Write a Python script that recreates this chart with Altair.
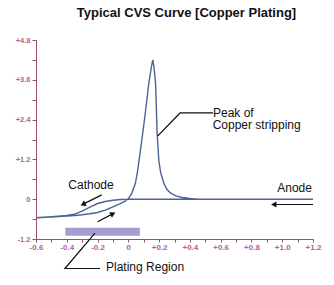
import altair as alt
import pandas as pd

# ---- data ----
cvs_v = [1.2, 1.0, 0.8, 0.6, 0.4, 0.2, 0.0, -0.05, -0.1, -0.15, -0.2, -0.25, -0.3, -0.35, -0.4, -0.5, -0.6,
         -0.5, -0.4, -0.35, -0.3, -0.25, -0.2, -0.15, -0.1, -0.06, -0.02, 0.0, 0.02, 0.046, 0.06, 0.079,
         0.107, 0.133, 0.15, 0.159, 0.166, 0.177, 0.187, 0.198, 0.21, 0.231, 0.25, 0.275, 0.31, 0.35,
         0.40, 0.45, 0.6, 0.8, 1.0, 1.2]
cvs_i = [0, 0, 0, 0, 0, 0, 0, -0.01, -0.03, -0.07, -0.13, -0.24, -0.36, -0.45, -0.49, -0.53, -0.56,
         -0.54, -0.51, -0.49, -0.47, -0.44, -0.4, -0.33, -0.23, -0.15, -0.06, 0.02, 0.15, 0.48, 0.85, 1.48,
         2.47, 3.49, 4.0, 4.2, 4.0, 3.5, 2.0, 1.17, 0.8, 0.48, 0.3, 0.18, 0.1, 0.05, 0.02, 0.0, 0, 0, 0, 0]

plating_v = [-0.41, 0.075]
plating_i = [-1.1, -0.86]

x_ticks = [-0.6, -0.5, -0.4, -0.3, -0.2, -0.1, 0.0, 0.1, 0.2, 0.3, 0.4, 0.5, 0.6, 0.7, 0.8, 0.9, 1.0, 1.1, 1.2]
y_ticks = [-1.2, -0.6, 0.0, 0.6, 1.2, 1.8, 2.4, 3.0, 3.6, 4.2, 4.8]

left_texts = ["Peak of", "Copper stripping", "Cathode", "Plating Region"]
left_v = [0.55, 0.548, -0.39, -0.145]
left_i = [2.47, 2.11, 0.32, -2.17]
right_texts = ["Anode"]
right_v = [1.193]
right_i = [0.22]

# pointer lines (id, x, y)
pointer_id = ["peak", "peak", "peak", "plate", "plate", "plate",
              "cath", "cath", "anod", "anod", "anode", "anode"]
pointer_v = [0.55, 0.336, 0.19, -0.217, -0.412, -0.184,
             -0.173, -0.29, -0.2, -0.105, 1.2, 0.95]
pointer_i = [2.6, 2.6, 1.9, -1.02, -2.09, -2.09,
             0.13, -0.14, -0.68, -0.45, -0.16, -0.16]

head_v = [-0.295, -0.1, 0.945]
head_i = [-0.155, -0.44, -0.16]
head_angle = [153, 334, 180]

# ---- tables ----
curve = pd.DataFrame({"x": cvs_v, "y": cvs_i, "idx": list(range(len(cvs_v)))})
bar = pd.DataFrame({"x": [plating_v[0]], "x2": [plating_v[1]], "y": [plating_i[0]], "y2": [plating_i[1]]})
labels_l = pd.DataFrame({"x": left_v, "y": left_i, "t": left_texts})
labels_r = pd.DataFrame({"x": right_v, "y": right_i, "t": right_texts})
pointers = pd.DataFrame({"x": pointer_v, "y": pointer_i, "g": pointer_id, "o": list(range(len(pointer_v)))})
heads = pd.DataFrame({"x": head_v, "y": head_i, "ang": head_angle})

AX = "#9e4a72"
LB = "#b0648e"

def lbl(step_mod):
    return ("round(datum.value*10) % " + str(step_mod) + " != 0 ? '' : "
            "(datum.value > 0 ? '+' + format(datum.value, '.1f') : "
            "(datum.value < 0 ? '-' + format(abs(datum.value), '.1f') : '0'))")

xs = alt.Scale(domain=[-0.6, 1.2], nice=False, zero=False)
ys = alt.Scale(domain=[-1.2, 4.8], nice=False, zero=False)

x_axis = alt.Axis(values=x_ticks, labelExpr=lbl(2), title=None, grid=False, domainColor=AX,
                  tickColor=AX, labelColor=LB, labelFontSize=8, labelFontWeight="bold",
                  labelFont="Liberation Sans", tickSize=3, labelPadding=1, labelFlush=False,
                  labelOverlap=False)
y_axis = alt.Axis(values=y_ticks, labelExpr=lbl(12), title=None, grid=False, domainColor=AX,
                  tickColor=AX, labelColor=LB, labelFontSize=7.5, labelFontWeight="bold",
                  labelFont="Liberation Sans", tickSize=4, labelPadding=2, labelFlush=False,
                  labelOverlap=False)

base_curve = alt.Chart(curve).mark_line(color="#4d6296", strokeWidth=1.4).encode(
    x=alt.X("x:Q", scale=xs, axis=x_axis),
    y=alt.Y("y:Q", scale=ys, axis=y_axis),
    order=alt.Order("idx:Q"),
)

bar_layer = alt.Chart(bar).mark_rect(color="#a29ecf").encode(
    x=alt.X("x:Q", scale=xs, axis=x_axis), x2="x2:Q",
    y=alt.Y("y:Q", scale=ys, axis=y_axis), y2="y2:Q",
)

pointer_layer = alt.Chart(pointers).mark_line(color="#111111", strokeWidth=1.2).encode(
    x=alt.X("x:Q", scale=xs, axis=x_axis),
    y=alt.Y("y:Q", scale=ys, axis=y_axis),
    detail="g:N",
    order=alt.Order("o:Q"),
)

head_layer = alt.Chart(heads).mark_point(shape="triangle-right", filled=True, color="#111111",
                                         size=38, opacity=1).encode(
    x=alt.X("x:Q", scale=xs, axis=x_axis),
    y=alt.Y("y:Q", scale=ys, axis=y_axis),
    angle=alt.Angle("ang:Q", scale=None),
)

text_l = alt.Chart(labels_l).mark_text(font="Liberation Sans", fontSize=12, color="#111111",
                                       baseline="alphabetic", align="left").encode(
    x=alt.X("x:Q", scale=xs, axis=x_axis),
    y=alt.Y("y:Q", scale=ys, axis=y_axis),
    text="t:N",
)
text_r = alt.Chart(labels_r).mark_text(font="Liberation Sans", fontSize=12, color="#111111",
                                       baseline="alphabetic", align="right").encode(
    x=alt.X("x:Q", scale=xs, axis=x_axis),
    y=alt.Y("y:Q", scale=ys, axis=y_axis),
    text="t:N",
)

chart = alt.layer(base_curve, bar_layer, pointer_layer, head_layer, text_l, text_r).properties(
    width=277, height=199,
    padding={"left": 36, "top": 40, "right": 21, "bottom": 46},
    autosize=alt.AutoSizeParams(type="none"),
    title=alt.TitleParams("Typical CVS Curve [Copper Plating]", font="Liberation Sans", fontSize=13,
                          fontWeight="bold", color="#111111", anchor="middle", dx=12,
                          offset=6, baseline="alphabetic", frame="group"),
).configure_view(stroke=None).configure_axis(labelOverlap=False)

chart.save("out.html", embed_options={"renderer": "svg", "actions": False})
